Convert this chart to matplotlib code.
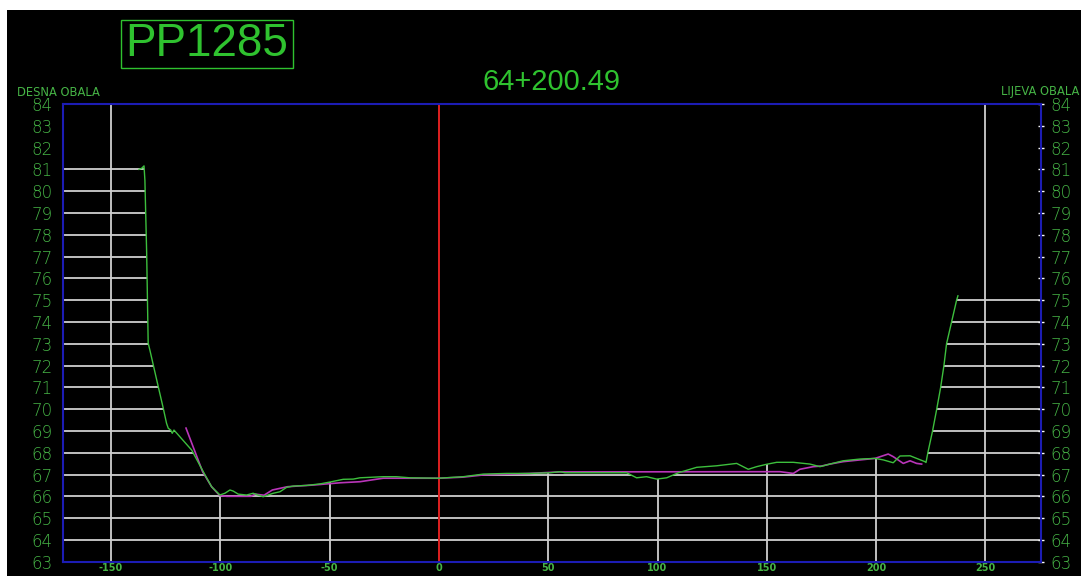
import matplotlib.pyplot as plt
import numpy as np
from matplotlib.patches import Polygon, Rectangle

# Cross section PP1285, chainage 64+200.49
profile_name = 'PP1285'
chainage = '64+200.49'

# Surveyed ground line (offset from axis [m], elevation [m])
ground_x = [-137.2, -136.0, -134.9, -134.5, -133.7, -133.0, -132.2, -129.1, -126.1, -124.6,
            -123.8, -122.7, -122.0, -121.2, -113.1, -107.8, -104.0, -100.2, -97.9, -95.6,
            -94.1, -91.8, -88.0, -85.0, -82.7, -80.4, -78.1, -75.8, -72.7, -69.7,
            -66.7, -60.5, -54.4, -49.1, -43.8, -39.2, -36.1, -25.5, -19.4, -13.3,
            -0.3, 11.1, 20.3, 31.0, 41.6, 50.8, 55.4, 57.6, 85.9, 90.4,
            95.0, 99.6, 104.2, 109.5, 117.9, 127.0, 136.2, 141.5, 145.3, 149.9,
            154.5, 162.1, 169.7, 174.3, 178.9, 184.9, 192.6, 199.5, 203.3, 207.8,
            210.9, 215.5, 218.5, 222.3, 222.8, 223.7, 225.8, 227.7, 229.5, 231.0,
            232.2, 234.5, 236.8, 237.4]
ground_z = [81.0, 81.05, 81.16, 80.5, 77.2, 73.03, 72.7, 71.34, 70.04, 69.35,
            69.12, 69.04, 68.89, 69.04, 68.12, 67.13, 66.44, 66.06, 66.14, 66.29,
            66.24, 66.1, 66.06, 66.14, 66.06, 65.98, 66.06, 66.14, 66.21, 66.41,
            66.47, 66.5, 66.57, 66.67, 66.78, 66.79, 66.85, 66.9, 66.9, 66.85,
            66.83, 66.9, 67.02, 67.05, 67.05, 67.08, 67.13, 67.08, 67.08, 66.85,
            66.9, 66.79, 66.85, 67.08, 67.33, 67.4, 67.51, 67.24, 67.36, 67.47,
            67.56, 67.56, 67.48, 67.36, 67.48, 67.63, 67.71, 67.74, 67.67, 67.54,
            67.85, 67.86, 67.74, 67.59, 67.55, 68.03, 69.0, 70.0, 71.0, 72.0,
            73.0, 74.0, 75.0, 75.2]

# Design / previous survey line
design_x = [-115.7, -108.1, -104.0, -100.2, -97.0, -90.0, -86.0, -84.0, -80.0, -76.2,
            -69.3, -57.1, -45.3, -36.1, -25.5, 0.1, 11.0, 20.3, 41.6, 55.0,
            156.0, 162.1, 165.1, 171.2, 175.1, 178.9, 184.9, 192.6, 199.5, 205.5,
            207.8, 212.4, 215.5, 218.5, 220.8]
design_z = [69.13, 67.13, 66.44, 66.03, 66.0, 66.0, 66.0, 66.1, 66.05, 66.29,
            66.44, 66.52, 66.62, 66.67, 66.83, 66.83, 66.88, 66.98, 67.05, 67.12,
            67.13, 67.05, 67.24, 67.36, 67.39, 67.48, 67.59, 67.67, 67.74, 67.94,
            67.82, 67.51, 67.63, 67.51, 67.48]

x_ticks = [-150, -100, -50, 0, 50, 100, 150, 200, 250]
elev_levels = list(range(63, 85))

xlo, xhi = -172.1, 275.4
zlo, zhi = 63, 84

green = '#3dbf3d'
label_green = '#46b446'
grid_col = '#cfcfcf'

fig = plt.figure(figsize=(10.81, 5.76), dpi=100, facecolor='white')
# black drawing sheet
fig.patches.append(Rectangle((7 / 1081, 0), 1, 566 / 576, transform=fig.transFigure,
                             facecolor='black', edgecolor='none', zorder=-10))

ax = fig.add_axes([62.7 / 1081, 1 - 561.7 / 576, (1041 - 62.7) / 1081, (561.7 - 104) / 576])
ax.set_facecolor('black')
ax.set_xlim(xlo, xhi)
ax.set_ylim(zlo, zhi)

gx = np.array(ground_x)
gz = np.array(ground_z)

# horizontal grid only below the ground line
verts = [(xlo - 5, zlo - 1), (xlo - 5, gz[0] + 0.1), (gx[0], gz[0] + 0.1)]
verts += list(zip(gx[1:-1], gz[1:-1]))
verts += [(gx[-1], gz[-1] + 0.1), (xhi + 5, gz[-1] + 0.1), (xhi + 5, zlo - 1)]
clip = Polygon(verts, closed=True, transform=ax.transData)
hl = ax.hlines(elev_levels[1:-1], xlo, xhi, colors=grid_col, linewidth=1.3, zorder=1)
hl.set_clip_path(clip)

# vertical grid up to the ground, full height outside the banks
vx = np.array([t for t in x_ticks if t != 0])
tops = np.where((vx > gx[0]) & (vx < gx[-1]), np.interp(vx, gx, gz), zhi)
ax.vlines(vx, zlo, tops, colors=grid_col, linewidth=1.3, zorder=1)

# river axis
ax.axvline(0, color='#e02020', linewidth=1.4, zorder=2)

ax.plot(design_x, design_z, color='#b935b9', linewidth=1.2, zorder=3)
ax.plot(ground_x, ground_z, color=green, linewidth=1.0, zorder=4)

for s in ax.spines.values():
    s.set_color('#1c1cb4')
    s.set_linewidth(1.5)
    s.set_zorder(5)

ax.set_xticks(x_ticks)
ax.set_xticklabels([str(t) for t in x_ticks])
ax.tick_params(axis='x', length=0, pad=1, labelsize=7, labelcolor=label_green)
for lab in ax.get_xticklabels():
    lab.set_fontweight('bold')
ax.set_yticks(elev_levels)
ax.tick_params(axis='y', left=False, right=True, labelleft=True, labelright=True,
               direction='inout', length=4, width=1, color='white', pad=5,
               labelsize=12, labelcolor=label_green)
for lab in ax.get_yticklabels(which='both'):
    lab.set_fontweight('light')

fig.text(17 / 1081, 1 - 92 / 576, 'DESNA OBALA', color=label_green, fontsize=8.3,
         ha='left', va='center')
fig.text(1001 / 1081, 1 - 92 / 576, 'LIJEVA OBALA', color=label_green, fontsize=8.3,
         ha='left', va='center')

# profile label in a box
fig.patches.append(Rectangle((120.7 / 1081, 1 - 68.3 / 576), 172.6 / 1081, 48.3 / 576,
                             transform=fig.transFigure, facecolor='none',
                             edgecolor='#2fc22f', linewidth=1.0))
fig.text(207 / 1081, 1 - 44.5 / 576, profile_name, color='#2fc22f', fontsize=33,
         family='Liberation Sans', ha='center', va='center')
fig.text(551 / 1081, 1 - 82.5 / 576, chainage, color='#2fc22f', fontsize=21,
         family='Liberation Sans', ha='center', va='center')

fig.savefig('out.png', dpi=100, facecolor='white')
